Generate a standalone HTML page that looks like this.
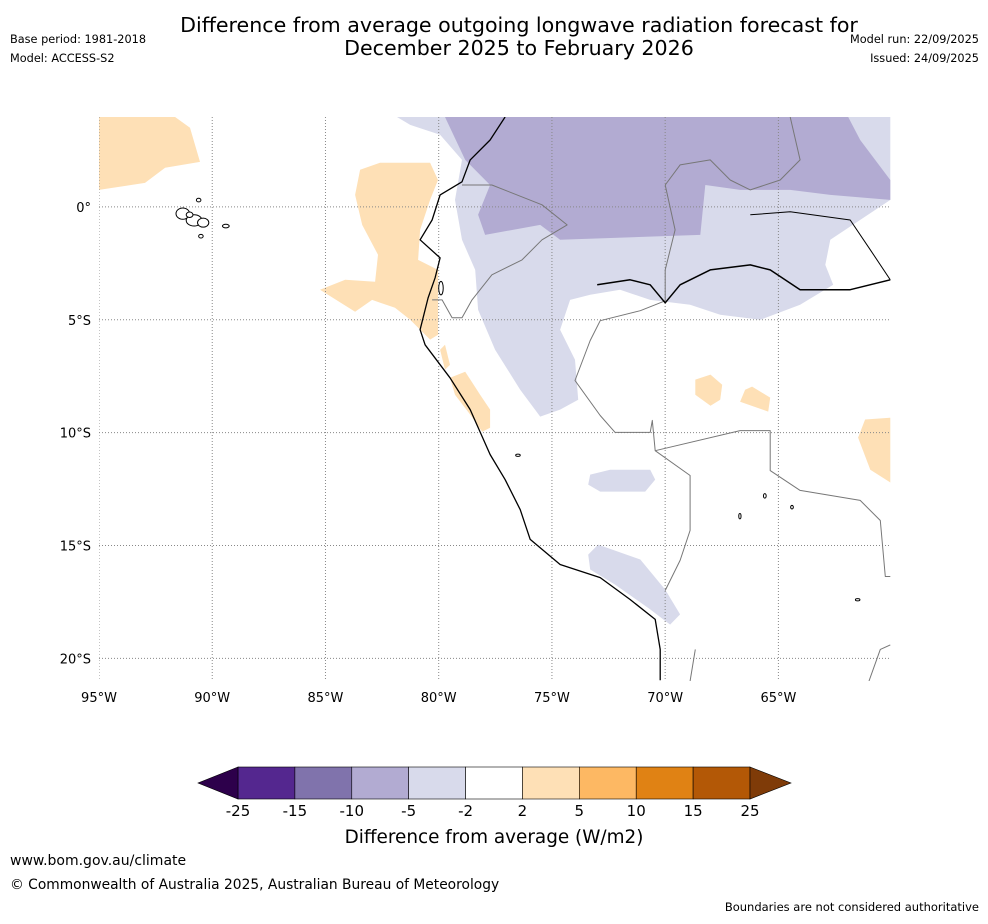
<!DOCTYPE html>
<html><head><meta charset="utf-8">
<style>
html,body{margin:0;padding:0;background:#fff;}
body{width:988px;height:919px;overflow:hidden;font-family:"Liberation Sans","DejaVu Sans",sans-serif;}
svg text{font-family:"DejaVu Sans","Liberation Sans",sans-serif;}
</style></head>
<body>
<svg id="chart" width="988" height="919" viewBox="0 0 988 919" xmlns="http://www.w3.org/2000/svg">
<text x="519" y="32" font-size="20.6" text-anchor="middle">Difference from average outgoing longwave radiation forecast for</text>
<text x="519" y="55" font-size="20.6" text-anchor="middle">December 2025 to February 2026</text>
<text x="10" y="43" font-size="11.3">Base period: 1981-2018</text>
<text x="10" y="62" font-size="11.3">Model: ACCESS-S2</text>
<text x="979" y="43" font-size="11.3" text-anchor="end">Model run: 22/09/2025</text>
<text x="979" y="62" font-size="11.3" text-anchor="end">Issued: 24/09/2025</text>
<g id="map"></g>
<g id="cbar"></g>
<text x="494" y="843" font-size="18.4" text-anchor="middle">Difference from average (W/m2)</text>
<text x="10" y="865" font-size="14">www.bom.gov.au/climate</text>
<text x="10" y="889" font-size="13.8">© Commonwealth of Australia 2025, Australian Bureau of Meteorology</text>
<text x="979" y="911" font-size="11.5" text-anchor="end">Boundaries are not considered authoritative</text>
</svg>
<script>
const NS="http://www.w3.org/2000/svg";
// axis data
const lonTicks=[-95,-90,-85,-80,-75,-70,-65];
const lonLabels=["95°W","90°W","85°W","80°W","75°W","70°W","65°W"];
const latTicks=[0,-5,-10,-15,-20];
const latLabels=["0°","5°S","10°S","15°S","20°S"];
const lonRange=[-95,-60.05];
const latRange=[3.98,-21];
// colorbar data
const cbBounds=[-25,-15,-10,-5,-2,2,5,10,15,25];
const cbColors=["#54278f","#8073ac","#b2abd2","#d8daeb","#ffffff","#fee0b6","#fdb863","#e08214","#b35806"];
const cbExtColors=["#2d004b","#7f3b08"];
// field polygons [lon,lat]
const lightPurple=[[-81.84,3.98],[-60.06,3.98],[-60.06,0.31],[-62.71,-1.46],[-62.93,-2.57],[-62.58,-3.45],[-64.04,-4.34],[-65.8,-5.0],[-67.57,-4.78],[-68.9,-4.34],[-70.66,-4.12],[-71.99,-3.67],[-73.31,-3.89],[-74.2,-4.12],[-74.64,-5.44],[-73.98,-6.77],[-73.84,-8.54],[-74.64,-8.98],[-75.52,-9.29],[-76.4,-8.1],[-77.51,-6.33],[-78.26,-4.56],[-78.39,-2.79],[-78.97,-1.46],[-79.28,0.31],[-78.97,2.08],[-79.94,3.19],[-81.26,3.63]];
const lightPurple2=[[-73.31,-11.86],[-72.43,-11.64],[-70.66,-11.64],[-70.44,-12.08],[-70.88,-12.61],[-72.87,-12.61],[-73.4,-12.3]];
const lightPurple3=[[-73.4,-15.4],[-72.96,-14.96],[-71.1,-15.62],[-70.0,-16.95],[-69.34,-18.05],[-69.78,-18.5],[-70.66,-17.83],[-72.21,-16.73],[-73.31,-16.06]];
const midPurple=[[-79.72,3.98],[-61.92,3.98],[-61.39,2.96],[-60.06,1.19],[-60.06,0.31],[-62.71,0.53],[-64.48,0.75],[-66.69,0.75],[-68.23,0.97],[-68.45,-1.24],[-74.64,-1.46],[-75.52,-0.8],[-77.95,-1.24],[-78.26,-0.35],[-77.73,0.97],[-78.83,2.08]];
const orangeBlobs=[
[[-95,3.98],[-91.64,3.98],[-90.98,3.5],[-90.54,1.99],[-92.08,1.73],[-92.97,1.06],[-95,0.75]],
[[-83.47,1.64],[-82.59,1.95],[-80.38,1.95],[-80.03,1.19],[-80.38,0.31],[-80.82,-1.02],[-80.91,-2.35],[-80.03,-2.79],[-80.03,-5.66],[-80.38,-5.88],[-81.26,-5.0],[-81.93,-4.47],[-82.94,-4.12],[-83.69,-4.65],[-85.24,-3.67],[-84.13,-3.23],[-82.81,-3.32],[-82.68,-2.12],[-83.38,-0.8],[-83.69,0.53]],
[[-79.94,-6.33],[-79.72,-6.11],[-79.5,-7.0],[-79.72,-7.21]],
[[-79.5,-7.57],[-78.83,-7.3],[-78.17,-8.32],[-77.73,-8.98],[-77.73,-9.78],[-78.08,-9.96],[-78.61,-9.2],[-79.28,-8.32]],
[[-68.67,-7.65],[-68.0,-7.43],[-67.48,-7.88],[-67.57,-8.54],[-68.0,-8.81],[-68.67,-8.32]],
[[-66.47,-8.1],[-66.16,-7.96],[-65.36,-8.45],[-65.45,-9.07],[-66.69,-8.63]],
[[-61.17,-9.42],[-60.06,-9.34],[-60.06,-12.21],[-60.94,-11.64],[-61.48,-10.22]]];
const coast=[[-77.07,3.98],[-77.73,2.96],[-78.61,2.08],[-78.97,1.11],[-79.94,0.53],[-80.29,-0.58],[-80.82,-1.46],[-79.94,-2.26],[-80.16,-3.14],[-80.47,-4.03],[-80.82,-5.44],[-80.6,-6.11],[-79.5,-7.57],[-78.61,-8.98],[-77.73,-10.97],[-77.07,-12.08],[-76.4,-13.41],[-75.96,-14.73],[-74.64,-15.84],[-72.87,-16.42],[-71.55,-17.39],[-70.44,-18.27],[-70.22,-19.6],[-70.22,-20.97]];
const amazon=[[-73.0,-3.45],[-71.55,-3.23],[-70.66,-3.45],[-70.0,-4.25],[-69.34,-3.45],[-68.01,-2.79],[-66.24,-2.57],[-65.36,-2.79],[-64.04,-3.67],[-61.83,-3.67],[-60.06,-3.23]];
const river2=[[-66.24,-0.35],[-64.48,-0.22],[-61.83,-0.58],[-60.94,-1.9],[-60.06,-3.23]];
const borders=[
[[-78.97,0.97],[-77.65,0.97],[-75.44,0.09],[-74.33,-0.8],[-75.44,-1.46],[-76.32,-2.35],[-77.65,-3.01],[-78.53,-4.12],[-78.97,-4.91],[-79.41,-4.91],[-79.85,-4.12],[-80.29,-4.12]],
[[-70.0,-4.16],[-71.1,-4.6],[-72.87,-5.04],[-73.31,-5.92],[-73.98,-7.69],[-72.87,-9.24],[-72.21,-9.99],[-70.66,-9.99],[-70.57,-9.46],[-70.44,-10.8],[-68.9,-11.9],[-68.9,-14.33],[-69.34,-15.66],[-70.0,-16.99]],
[[-70.44,-10.8],[-66.69,-9.91],[-65.36,-9.91],[-65.36,-11.68],[-64.04,-12.56],[-61.39,-13.0],[-60.5,-13.89],[-60.28,-16.37],[-60.06,-16.37]],
[[-70.0,0.97],[-69.34,1.86],[-68.01,2.08],[-67.13,1.19],[-66.24,0.75],[-64.92,1.19],[-64.04,2.08],[-64.48,3.98]],
[[-70.0,0.97],[-69.56,-1.02],[-70.0,-2.79],[-70.0,-4.16]],
[[-68.67,-19.6],[-68.9,-21]],[[-61.0,-21],[-60.5,-19.6],[-60.06,-19.4]]];
const islands=[[-91.3,-0.3,0.3,0.25],[-90.8,-0.6,0.35,0.25],[-90.4,-0.7,0.25,0.2],[-90.6,0.3,0.1,0.08],[-89.4,-0.85,0.15,0.08],[-90.5,-1.3,0.1,0.08],[-91.0,-0.35,0.15,0.12],[-79.9,-3.6,0.1,0.3],[-76.5,-11.0,0.1,0.05],[-65.6,-12.8,0.06,0.1],[-64.4,-13.3,0.06,0.08],[-66.7,-13.7,0.05,0.12],[-61.5,-17.4,0.1,0.05]];

const X0=99,X1=890.5,Y0=117,Y1=681;
function xs(lon){return X0+(lon-lonRange[0])/(lonRange[1]-lonRange[0])*(X1-X0);}
function ys(lat){return Y0+(lat-latRange[0])/(latRange[1]-latRange[0])*(Y1-Y0);}
const map=document.getElementById('map');
function mk(tag,attrs,parent){const e=document.createElementNS(NS,tag);for(const k in attrs)e.setAttribute(k,attrs[k]);parent.appendChild(e);return e;}
function pts(a){return a.map(p=>xs(p[0]).toFixed(1)+','+ys(p[1]).toFixed(1)).join(' ');}
const clip=mk('clipPath',{id:'mc'},map);mk('rect',{x:X0,y:Y0,width:X1-X0,height:Y1-Y0},clip);
const g=mk('g',{'clip-path':'url(#mc)'},map);
function poly(a,fill,name){const e=mk('polygon',{points:pts(a),fill:fill,stroke:'none'},g);

}
poly(lightPurple,cbColors[3],'anomaly-minus5-to-minus2-north');
poly(lightPurple2,cbColors[3],'anomaly-minus5-to-minus2-peru');
poly(lightPurple3,cbColors[3],'anomaly-minus5-to-minus2-south');
poly(midPurple,cbColors[2],'anomaly-minus10-to-minus5');
orangeBlobs.forEach((b,i)=>poly(b,cbColors[5],'anomaly-2-to-5-area-'+(i+1)));
// gridlines
lonTicks.forEach((lon,i)=>{const l=mk('line',{x1:xs(lon),x2:xs(lon),y1:Y0,y2:Y1,stroke:'#888','stroke-width':1,'stroke-dasharray':'1,2'},g);

});
latTicks.forEach((lat,i)=>{const l=mk('line',{x1:X0,x2:X1,y1:ys(lat),y2:ys(lat),stroke:'#888','stroke-width':1,'stroke-dasharray':'1,2'},g);

});
function line(a,stroke,w,name){const e=mk('polyline',{points:pts(a),fill:'none',stroke:stroke,'stroke-width':w,'stroke-linejoin':'round'},g);

}
borders.forEach((b,i)=>line(b,'#777',1,'country-border-'+(i+1)));
line(coast,'#000',1.3,'pacific-coastline');
line(amazon,'#000',1.5,'amazon-river');
line(river2,'#000',1,'rio-negro');
islands.forEach((s,i)=>{const e=mk('ellipse',{cx:xs(s[0]),cy:ys(s[1]),rx:s[2]*22.6,ry:s[3]*22.6,fill:'#fff',stroke:'#000','stroke-width':1},g);

});
lonTicks.forEach((lon,i)=>{const t=mk('text',{x:xs(lon),y:702,'font-size':13,'text-anchor':'middle'},map);t.textContent=lonLabels[i];

});
latTicks.forEach((lat,i)=>{const t=mk('text',{x:91,y:ys(lat)+5,'font-size':13,'text-anchor':'end'},map);t.textContent=latLabels[i];

});
// colorbar
const cb=document.getElementById('cbar');
const CX0=238,CX1=750,CY=767,CH=32;
const bw=(CX1-CX0)/cbColors.length;
cbColors.forEach((c,i)=>{const r=mk('rect',{x:CX0+i*bw,y:CY,width:bw,height:CH,fill:c,stroke:'#000','stroke-width':0.6},cb);

});
const lt=mk('polygon',{points:`${CX0},${CY} ${CX0-40},${CY+CH/2} ${CX0},${CY+CH}`,fill:cbExtColors[0],stroke:'#000','stroke-width':0.6},cb);


const rt=mk('polygon',{points:`${CX1},${CY} ${CX1+41},${CY+CH/2} ${CX1},${CY+CH}`,fill:cbExtColors[1],stroke:'#000','stroke-width':0.6},cb);


cbBounds.forEach((v,i)=>{const t=mk('text',{x:CX0+i*bw,y:816,'font-size':15,'text-anchor':'middle'},cb);t.textContent=v;

});
</script>
</body></html>
